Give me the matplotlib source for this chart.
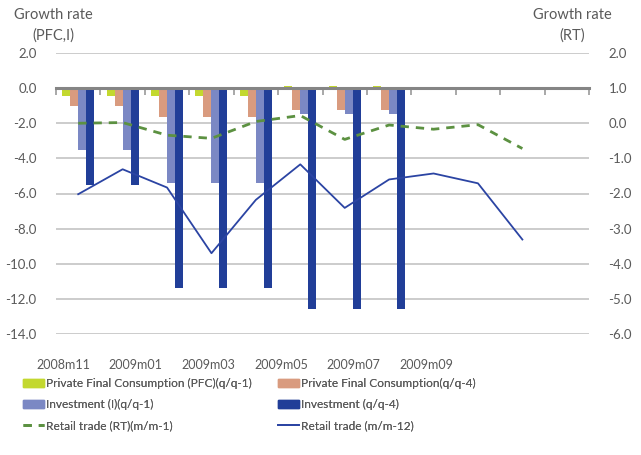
import numpy as np
import matplotlib.pyplot as plt
from matplotlib.patches import Patch
from matplotlib.lines import Line2D

plt.rcParams['font.family'] = ['Lato', 'DejaVu Sans']

# --- data ---
months = ['2008m11', '2008m12', '2009m01', '2009m02', '2009m03', '2009m04',
          '2009m05', '2009m06', '2009m07', '2009m08', '2009m09', '2009m10']
tick_labels = ['2008m11', '2009m01', '2009m03', '2009m05', '2009m07', '2009m09']

# quarterly growth rates, repeated for each month of the quarter
pfc_q1 = [-0.45, -0.45, -0.45, -0.45, -0.45, 0.1, 0.1, 0.1]
pfc_q4 = [-1.0, -1.0, -1.65, -1.65, -1.65, -1.25, -1.25, -1.25]
inv_q1 = [-3.5, -3.5, -5.4, -5.4, -5.4, -1.45, -1.45, -1.45]
inv_q4 = [-5.5, -5.5, -11.4, -11.4, -11.4, -12.6, -12.6, -12.6]

# monthly retail trade (right axis)
rt_m1 = [0.0, 0.02, -0.34, -0.43, 0.05, 0.22, -0.46, -0.05, -0.17, -0.04, -0.72]
rt_m12 = [-2.02, -1.31, -1.83, -3.70, -2.18, -1.17, -2.41, -1.60, -1.43, -1.71, -3.31]

# --- style ---
C_PFC1 = '#c3d82f'
C_PFC4 = '#d99b7f'
C_INV1 = '#7b88c4'
C_INV4 = '#213e98'
C_RT1 = '#5c9141'
C_RT12 = '#2b44a3'
TXT = '#5a5a5a'
GRID = '#c4c4c4'

fig = plt.figure(figsize=(6.41, 4.55), dpi=100)
ax = fig.add_axes([56 / 641, 121 / 455, 533 / 641, 281 / 455])

x = np.arange(len(months))
xb = x[:len(pfc_q1)]
w = 0.18
ax.bar(xb - 1.5 * w, pfc_q1, w, color=C_PFC1, zorder=2)
ax.bar(xb - 0.5 * w, pfc_q4, w, color=C_PFC4, zorder=2)
ax.bar(xb + 0.5 * w, inv_q1, w, color=C_INV1, zorder=2)
ax.bar(xb + 1.5 * w, inv_q4, w, color=C_INV4, zorder=2)

ax.set_xlim(-0.5, len(months) - 0.5)
ax.set_ylim(-14, 2)
ax.set_yticks(np.arange(-14, 2.1, 2))
ax.set_yticklabels([f'{v:.1f}' for v in np.arange(-14, 2.1, 2)])
ax.yaxis.grid(True, color=GRID, linewidth=1.2, zorder=0)
ax.set_axisbelow(True)

for s in ['top', 'right', 'left']:
    ax.spines[s].set_visible(False)
# category axis sits on the zero line
ax.spines['bottom'].set_position(('data', 0))
ax.spines['bottom'].set_color('#858585')
ax.spines['bottom'].set_linewidth(2.2)
ax.spines['bottom'].set_zorder(3)
ax.set_xticks(np.arange(len(months) + 1) - 0.5)
ax.tick_params(axis='x', direction='out', length=5, width=1.2, color='#9a9a9a',
               labelbottom=False)
ax.tick_params(axis='y', length=0, pad=14, labelsize=9.5, labelcolor=TXT)

# month labels along the bottom edge
sec = ax.secondary_xaxis(0)
sec.set_xticks(-0.34 + 1.635 * np.arange(len(tick_labels)), tick_labels)
sec.tick_params(length=0, pad=18, labelsize=9, labelcolor=TXT)
sec.spines['bottom'].set_visible(False)

# retail trade on the right axis
ax2 = ax.twinx()
xl = x[:len(rt_m1)]
ax2.plot(xl, rt_m1, color=C_RT1, linewidth=2, linestyle=(0, (3, 2.5)))
ax2.plot(xl, rt_m12, color=C_RT12, linewidth=1.3)
ax2.set_ylim(-6, 2)
ax2.set_yticks(np.arange(-6, 2.1, 1))
ax2.set_yticklabels([f'{v:.1f}' for v in np.arange(-6, 2.1, 1)])
ax2.tick_params(axis='y', length=0, pad=14, labelsize=9.5, labelcolor=TXT)
for s in ax2.spines.values():
    s.set_visible(False)

# axis titles
fig.text(53 / 641, 1 - 15 / 455, 'Growth rate', ha='center', va='center',
         fontsize=10.5, color=TXT)
fig.text(53 / 641, 1 - 36 / 455, '(PFC,I)', ha='center', va='center',
         fontsize=10.5, color=TXT)
fig.text(572 / 641, 1 - 15 / 455, 'Growth rate', ha='center', va='center',
         fontsize=10.5, color=TXT)
fig.text(572 / 641, 1 - 36 / 455, '(RT)', ha='center', va='center',
         fontsize=10.5, color=TXT)

# legend in two columns
left_items = [
    (Patch(color=C_PFC1), 'Private Final Consumption (PFC)(q/q-1)'),
    (Patch(color=C_INV1), 'Investment (I)(q/q-1)'),
    (Line2D([], [], color=C_RT1, linewidth=2, linestyle=(0, (3, 2.5))),
     'Retail trade (RT)(m/m-1)'),
]
right_items = [
    (Patch(color=C_PFC4), 'Private Final Consumption(q/q-4)'),
    (Patch(color=C_INV4), 'Investment (q/q-4)'),
    (Line2D([], [], color=C_RT12, linewidth=1.3), 'Retail trade (m/m-12)'),
]
for items, xpos in [(left_items, 23), (right_items, 278)]:
    leg = fig.legend([h for h, _ in items], [t for _, t in items],
                     loc='upper left', bbox_to_anchor=(xpos / 641, 1 - 378 / 455),
                     frameon=False, fontsize=8.6, labelcolor=TXT,
                     borderpad=0, borderaxespad=0, handlelength=1.75,
                     handleheight=0.7, handletextpad=0.15, labelspacing=0.85)
    fig.add_artist(leg)

fig.savefig('out.png', dpi=100)
